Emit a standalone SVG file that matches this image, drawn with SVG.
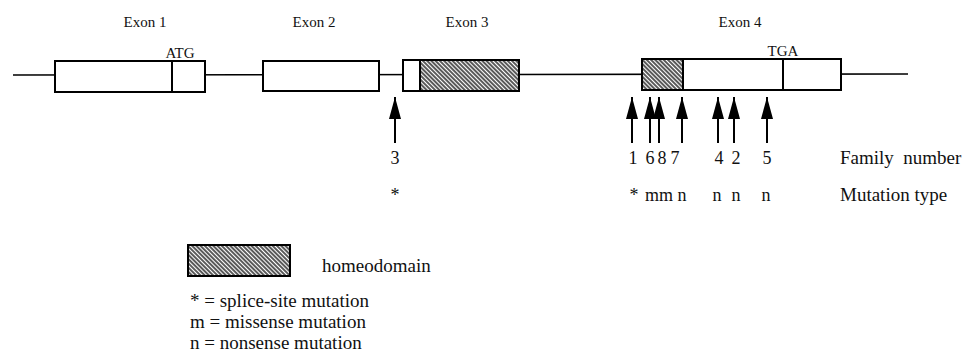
<svg xmlns="http://www.w3.org/2000/svg" width="978" height="358" viewBox="0 0 978 358">
<defs>
<pattern id="hatch" width="3" height="3" patternUnits="userSpaceOnUse" patternTransform="rotate(-45)">
<rect width="3" height="3" fill="#fff"/>
<line x1="1" y1="0" x2="1" y2="3" stroke="#222" stroke-width="1.5"/>
</pattern>
<marker id="ah" viewBox="0 0 22 12" refX="22" refY="6" markerWidth="22" markerHeight="12" markerUnits="userSpaceOnUse" orient="auto">
<path d="M0,0 L22,6 L0,12 Z" fill="#000"/>
</marker>
</defs>
<style>
text{font-family:"Liberation Serif","Times New Roman",serif;fill:#111}
.ex{font-size:15px;text-anchor:middle}
.lab{font-size:18px;text-anchor:middle}
.leg{font-size:19px}
.box{fill:#fff;stroke:#000;stroke-width:2}
.hd{fill:url(#hatch);stroke:#000;stroke-width:2}
.div{stroke:#000;stroke-width:2}
.ln{stroke:#000;stroke-width:1.6;fill:none}
.ar{stroke:#000;stroke-width:2;fill:none}
</style>
<rect width="978" height="358" fill="#fff"/>
<g id="connectors">
<line class="ln" x1="13" y1="75" x2="908" y2="74"/>
<line class="ar" x1="395" y1="143" x2="395" y2="97" marker-end="url(#ah)"/>
<line class="ar" x1="632" y1="143" x2="632" y2="97" marker-end="url(#ah)"/>
<line class="ar" x1="650" y1="143" x2="650" y2="97" marker-end="url(#ah)"/>
<line class="ar" x1="659" y1="143" x2="659" y2="97" marker-end="url(#ah)"/>
<line class="ar" x1="682" y1="143" x2="682" y2="97" marker-end="url(#ah)"/>
<line class="ar" x1="718" y1="143" x2="718" y2="97" marker-end="url(#ah)"/>
<line class="ar" x1="734" y1="143" x2="734" y2="97" marker-end="url(#ah)"/>
<line class="ar" x1="767" y1="143" x2="767" y2="97" marker-end="url(#ah)"/>
</g>
<g id="exon1">
<text class="ex" x="145" y="27">Exon 1</text>
<rect class="box" x="55" y="61" width="150" height="31"/>
<line class="div" x1="172" y1="61" x2="172" y2="92"/>
<text class="ex" x="180" y="58">ATG</text>
</g>
<g id="exon2">
<text class="ex" x="314" y="27">Exon 2</text>
<rect class="box" x="263" y="61" width="116" height="30"/>
</g>
<g id="exon3">
<text class="ex" x="467" y="27">Exon 3</text>
<rect class="box" x="403" y="60" width="17" height="31"/>
<rect class="hd" x="420" y="60" width="99" height="31"/>
</g>
<g id="exon4">
<text class="ex" x="740" y="27">Exon 4</text>
<rect class="box" x="642" y="59" width="199" height="31"/>
<rect class="hd" x="642" y="59" width="41" height="31"/>
<line class="div" x1="783" y1="59" x2="783" y2="90"/>
<text class="ex" x="783" y="56">TGA</text>
</g>
<g id="family-numbers">
<text class="lab" x="395" y="164">3</text>
<text class="lab" x="633" y="164">1</text>
<text class="lab" x="650" y="164">6</text>
<text class="lab" x="662" y="164">8</text>
<text class="lab" x="675" y="164">7</text>
<text class="lab" x="719" y="164">4</text>
<text class="lab" x="736" y="164">2</text>
<text class="lab" x="767" y="164">5</text>
<text class="leg" x="840" y="164" xml:space="preserve">Family  number</text>
</g>
<g id="mutation-types">
<text class="lab" x="395" y="201">*</text>
<text class="lab" x="634" y="201">*</text>
<text class="lab" x="652" y="201">m</text>
<text class="lab" x="666" y="201">m</text>
<text class="lab" x="682" y="201">n</text>
<text class="lab" x="717" y="201">n</text>
<text class="lab" x="736" y="201">n</text>
<text class="lab" x="766" y="201">n</text>
<text class="leg" x="840" y="201">Mutation type</text>
</g>
<g id="legend">
<rect class="hd" x="188" y="245" width="102" height="31" stroke-width="2.5"/>
<text class="leg" x="322" y="272">homeodomain</text>
<text class="leg" x="190" y="307">* = splice-site mutation</text>
<text class="leg" x="190" y="328">m = missense mutation</text>
<text class="leg" x="190" y="349">n = nonsense mutation</text>
</g>
</svg>
